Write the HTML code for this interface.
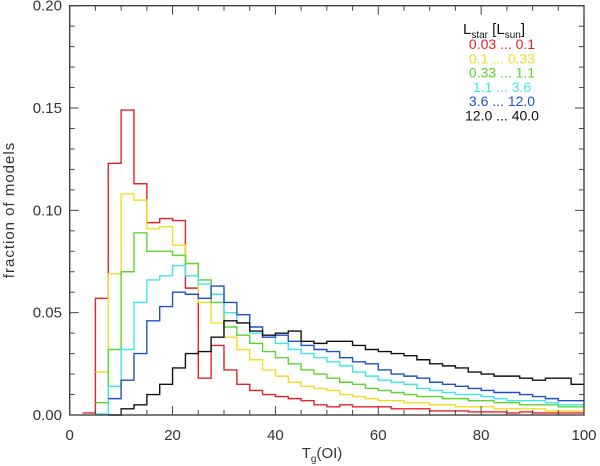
<!DOCTYPE html>
<html><head><meta charset="utf-8"><style>
body{margin:0;background:#fff;}
svg{display:block;font-family:"Liberation Sans",sans-serif;}
</style></head><body>
<svg id="chart" width="600" height="466" viewBox="0 0 600 466" xmlns="http://www.w3.org/2000/svg"></svg>
<script>
const binStart = 2.5;
const binWidth = 2.5;
const seriesNames = ["0.03 ... 0.1","0.1 ... 0.33","0.33 ... 1.1","1.1 ... 3.6","3.6 ... 12.0","12.0 ... 40.0"];
const seriesColors = ["#e8202a","#f3dd22","#5cd62a","#40e6ee","#1f4fc8","#111111"];
const red = [0.001,0.057,0.123,0.149,0.113,0.094,0.096,0.095,0.062,0.018,0.034,0.022,0.015,0.012,0.010,0.009,0.008,0.007,0.005,0.004,0.005,0.004,0.004,0.004,0.003,0.003,0.003,0.002,0.002,0.002,0.0015,0.0015,0.0015,0.001,0.0015,0.001,0.001,0.001,0.001];
const yellow = [null,0.021,0.069,0.108,0.105,0.091,0.092,0.083,0.074,0.055,0.045,0.038,0.032,0.027,0.022,0.019,0.016,0.014,0.013,0.012,0.010,0.009,0.008,0.007,0.007,0.006,0.006,0.005,0.005,0.004,0.004,0.004,0.003,0.003,0.003,0.003,0.002,0.002,0.002];
const green = [null,0.006,0.032,0.070,0.089,0.080,0.080,0.078,0.074,0.066,0.055,0.043,0.039,0.035,0.031,0.028,0.025,0.022,0.020,0.018,0.016,0.015,0.013,0.012,0.011,0.010,0.009,0.009,0.008,0.008,0.007,0.007,0.006,0.006,0.005,0.005,0.005,0.004,0.004];
const cyan = [null,0.0005,0.014,0.032,0.055,0.066,0.068,0.073,0.068,0.064,0.059,0.050,0.045,0.040,0.038,0.035,0.032,0.030,0.028,0.026,0.024,0.021,0.019,0.017,0.016,0.015,0.013,0.012,0.011,0.010,0.010,0.009,0.008,0.007,0.007,0.007,0.006,0.005,0.005];
const blue = [null,null,0.008,0.017,0.030,0.046,0.053,0.060,0.059,0.057,0.063,0.055,0.049,0.043,0.038,0.039,0.036,0.034,0.032,0.031,0.028,0.026,0.025,0.022,0.020,0.019,0.018,0.016,0.015,0.014,0.013,0.012,0.011,0.011,0.010,0.009,0.008,0.007,0.007];
const black = [null,null,0.0,0.003,0.005,0.010,0.015,0.023,0.030,0.031,0.038,0.046,0.045,0.041,0.039,0.040,0.041,0.036,0.035,0.036,0.036,0.034,0.032,0.031,0.030,0.029,0.027,0.025,0.024,0.023,0.021,0.020,0.019,0.019,0.018,0.017,0.018,0.018,0.015];
const xTicks = [0,20,40,60,80,100];
const yTicks = [0,0.05,0.10,0.15,0.20];
const yTickLabels = ["0.00","0.05","0.10","0.15","0.20"];

const allSeries = [red,yellow,green,cyan,blue,black];
const L=69.7,R=584,T=5.7,B=415;
const xMin=0,xMax=100,yMin=0,yMax=0.2;
const xs=v=>L+(v-xMin)/(xMax-xMin)*(R-L);
const ys=v=>B-(v-yMin)/(yMax-yMin)*(B-T);
const svg=document.getElementById('chart');
const NS='http://www.w3.org/2000/svg';
function mk(tag,attrs,parent){const e=document.createElementNS(NS,tag);for(const k in attrs)e.setAttribute(k,attrs[k]);(parent||svg).appendChild(e);return e;}

// series
allSeries.forEach((arr,si)=>{
  let d='';let open=false;
  arr.forEach((v,i)=>{
    const x0=xs(binStart+i*binWidth),x1=xs(binStart+(i+1)*binWidth);
    if(v===null){open=false;return;}
    const y=ys(v);
    if(!open){d+='M'+x0.toFixed(2)+','+y.toFixed(2);open=true;}
    else d+='L'+x0.toFixed(2)+','+y.toFixed(2);
    d+='L'+x1.toFixed(2)+','+y.toFixed(2);
  });
  const p=mk('path',{d:d,fill:'none',stroke:seriesColors[si],'stroke-width':1.4});
  
  
});

// frame
const fr=mk('rect',{x:L,y:T,width:R-L,height:B-T,fill:'none',stroke:'#333','stroke-width':1.3});


const ax='#444';
for(let v=0;v<=100;v+=5){
  const x=xs(v),len=(v%20===0)?9:5;
  mk('line',{x1:x,y1:B,x2:x,y2:B-len,stroke:ax,'stroke-width':1});
  mk('line',{x1:x,y1:T,x2:x,y2:T+len,stroke:ax,'stroke-width':1});
}
for(let k=0;k<=20;k++){
  const v=k*0.01,y=ys(v),len=(k%5===0)?9:5;
  mk('line',{x1:L,y1:y,x2:L+len,y2:y,stroke:ax,'stroke-width':1});
  mk('line',{x1:R,y1:y,x2:R-len,y2:y,stroke:ax,'stroke-width':1});
}
xTicks.forEach(v=>{
  const t=mk('text',{x:xs(v),y:440,'text-anchor':'middle','font-size':15,fill:'#333'});
  t.textContent=v;
  
  
});
yTicks.forEach((v,i)=>{
  const t=mk('text',{x:62,y:ys(v)+5,'text-anchor':'end','font-size':15,fill:'#333'});
  t.textContent=yTickLabels[i];
  
  
});
// axis titles
const xt=mk('text',{x:322,y:458,'text-anchor':'middle','font-size':15,fill:'#333'});
xt.innerHTML='T<tspan font-size="10" dy="4">g</tspan><tspan dy="-4">(OI)</tspan>';


const yt=mk('text',{x:0,y:0,'text-anchor':'middle','font-size':15,fill:'#333','letter-spacing':'1',transform:'translate(14,210) rotate(-90)'});
yt.textContent='fraction  of  models';


// legend
const lh=mk('text',{x:463,y:34,'font-size':15,fill:'#111'});
lh.innerHTML='L<tspan font-size="10" dy="4">star</tspan><tspan dy="-4"> [L</tspan><tspan font-size="10" dy="4">sun</tspan><tspan dy="-4">]</tspan>';


seriesNames.forEach((n,i)=>{
  const t=mk('text',{x:502,y:49+i*14.3,'text-anchor':'middle','font-size':14,fill:seriesColors[i]});
  t.textContent=n;
  
  
});
</script>
</body></html>
